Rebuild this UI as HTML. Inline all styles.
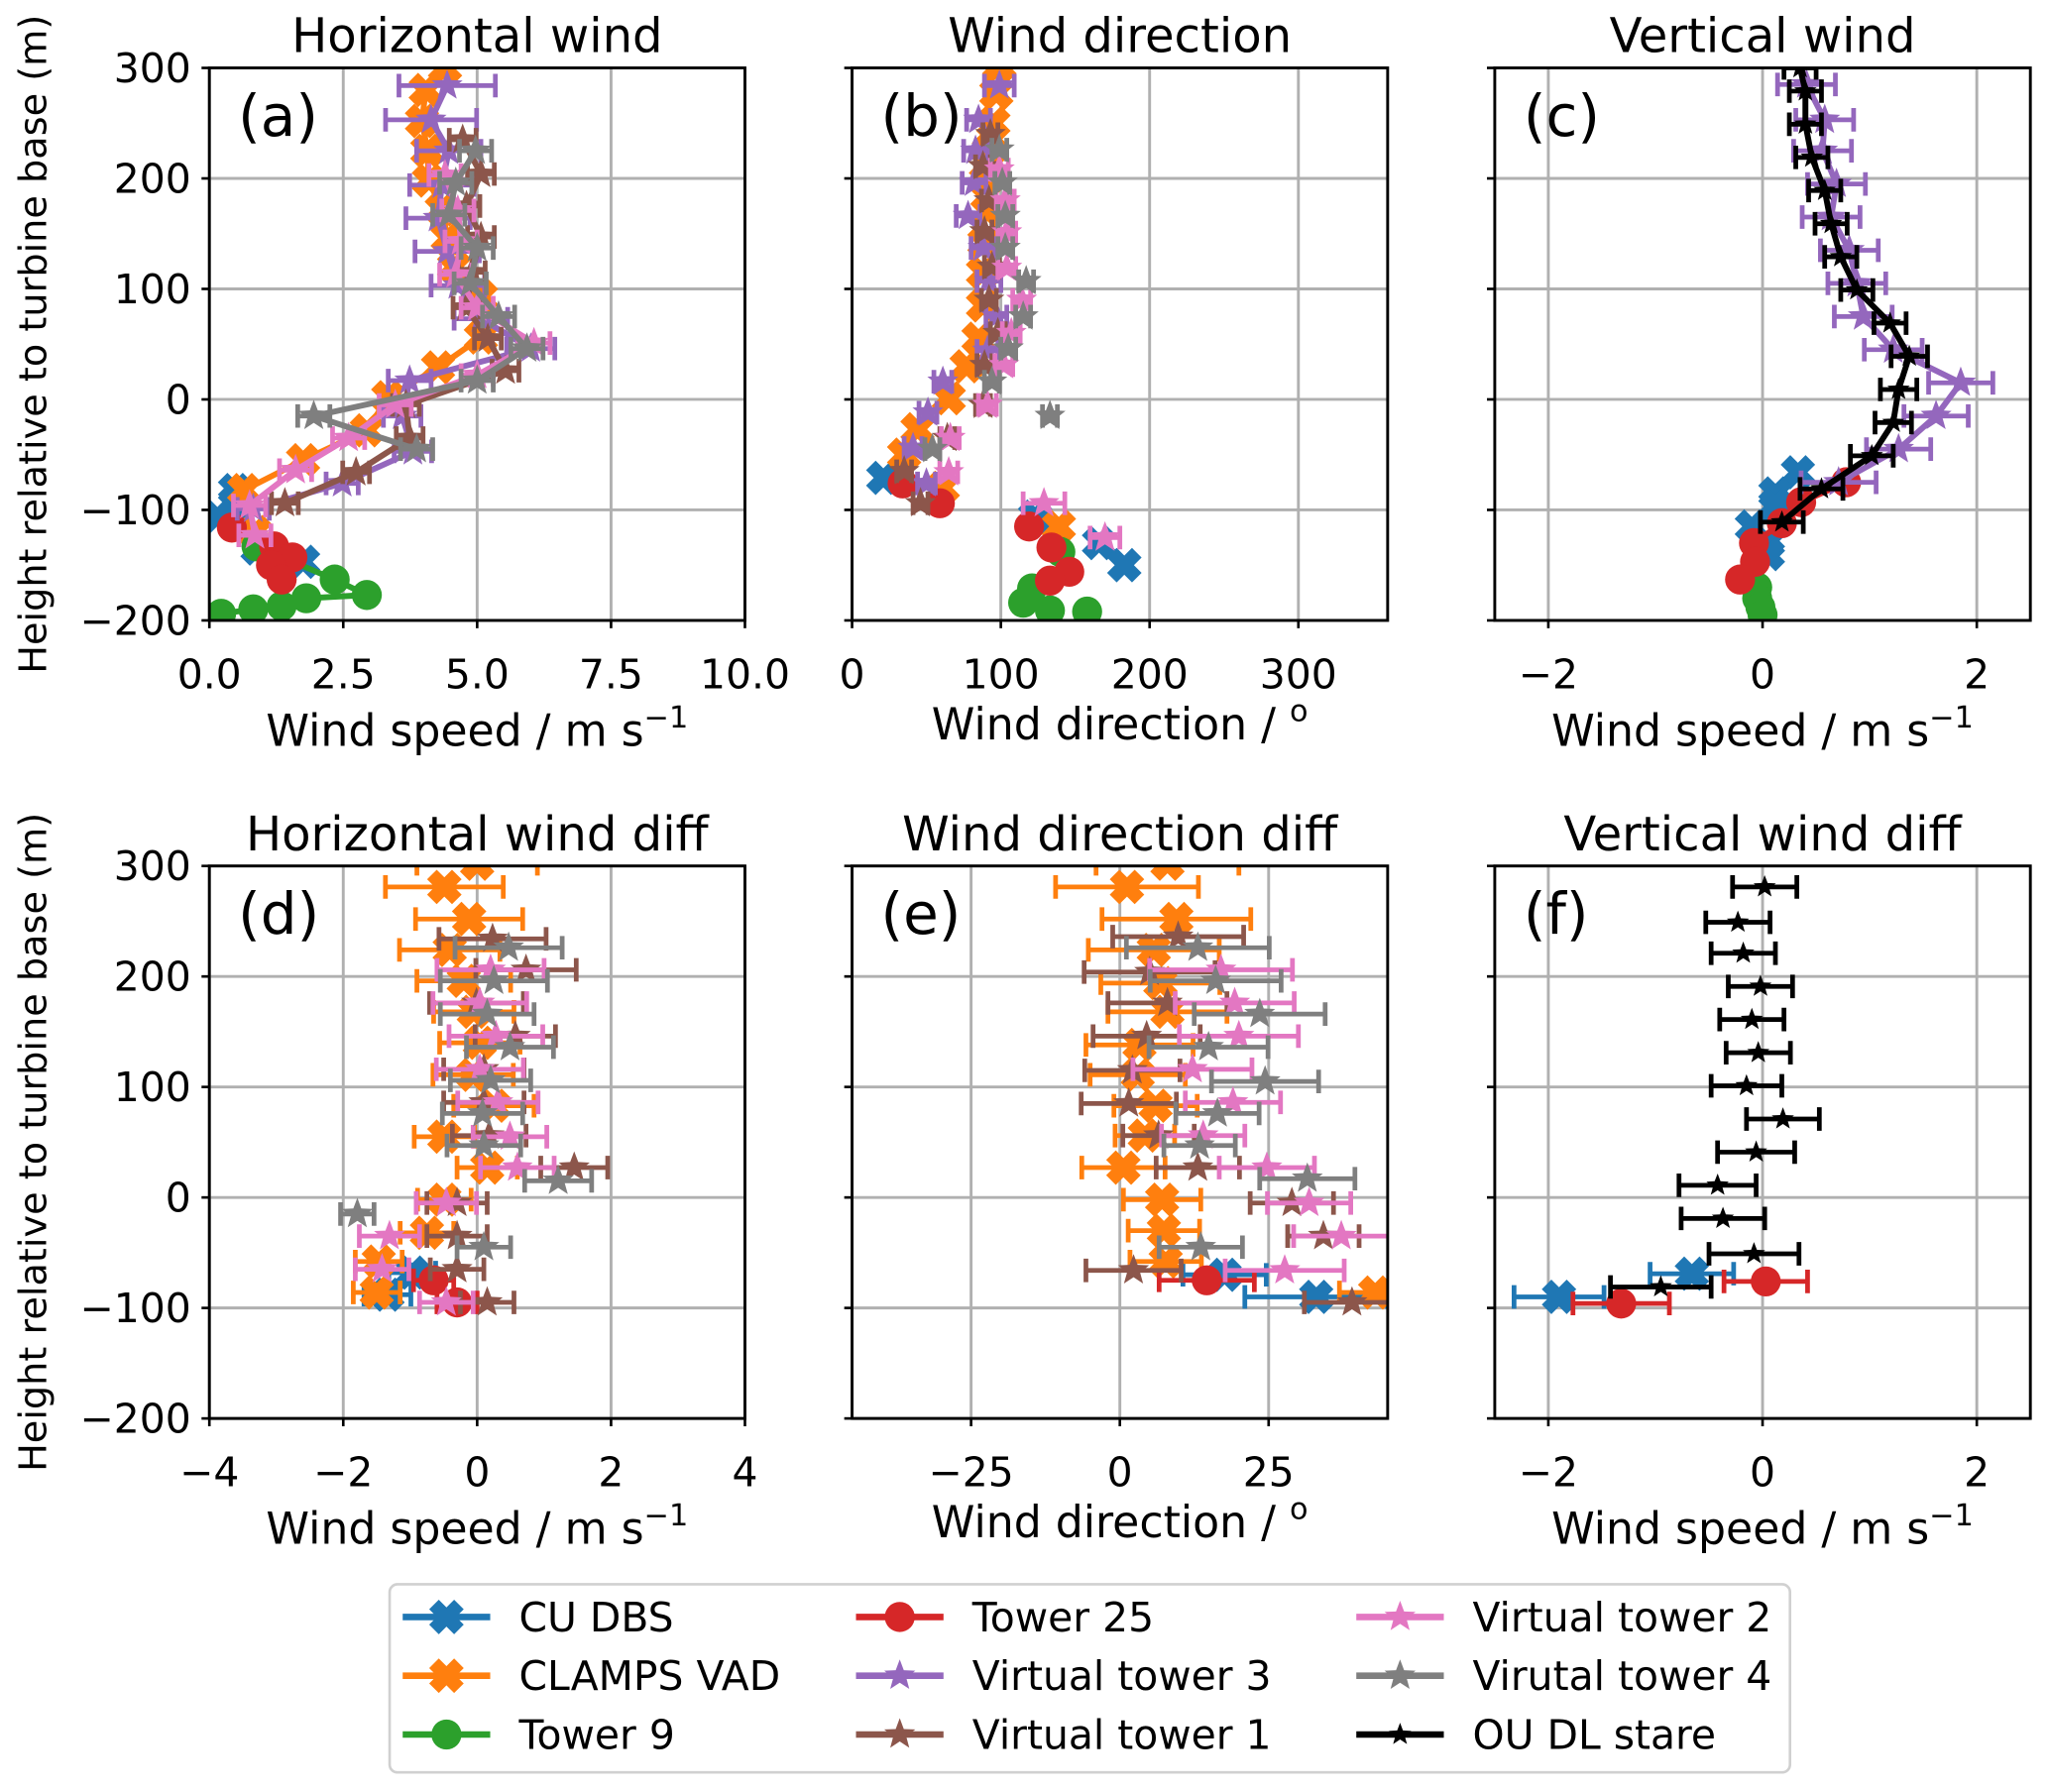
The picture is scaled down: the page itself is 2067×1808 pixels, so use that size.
<!DOCTYPE html>
<html><head><meta charset="utf-8"><title>Wind profiles</title>
<style>
html,body{margin:0;padding:0;background:#fff;}
svg{display:block;font-family:"DejaVu Sans","Liberation Sans",sans-serif;}
</style></head>
<body>
<svg id="fig" xmlns="http://www.w3.org/2000/svg" width="2067" height="1808" viewBox="0 0 1568 1372">
<rect x="0" y="0" width="1568" height="1372" fill="#fff"/>
</svg>
<script>
// ---------- DATA ----------
// Panel (a) horizontal wind speed
const aCU_h=[-82,-93,-106,-135,-147];
const aCU_v=[0.48,0.48,0.15,0.9,1.75];
const aCL_h=[300,280,252,225,198,172,146,120,93,56,29,2,-28,-55,-82,-120];
const aCL_v=[4.4,4.04,3.97,4.07,4.1,4.34,4.45,4.57,5.07,5.07,4.27,3.34,2.94,1.75,0.65,0.85];
const aT9_h=[-133,-163,-177,-180,-187,-190,-194];
const aT9_v=[0.88,2.34,2.94,1.81,1.35,0.82,0.22];
const aT25_h=[-116,-133,-143,-150,-163];
const aT25_v=[0.42,1.21,1.55,1.15,1.35];
const aV3_h=[284,253,225,194,164,134,103,73,46,17,-15,-47,-76,-99];
const aV3_v=[4.44,4.14,4.47,4.34,4.27,4.44,4.64,5.07,6.0,3.74,3.6,3.8,2.48,0.82];
const aV3_e=[0.9,0.85,0.6,0.6,0.6,0.6,0.5,0.5,0.45,0.4,0.35,0.35,0.3,0.3];
const aV1_h=[235,204,175,147,115,83,55,26,-5,-35,-66,-94];
const aV1_v=[4.73,5.07,4.8,5.07,4.9,4.8,5.2,5.53,3.67,3.74,2.74,1.41];
const aV1_e=[0.25,0.25,0.25,0.25,0.25,0.25,0.25,0.25,0.25,0.25,0.25,0.25];
const aV2_h=[203,171,143,113,83,51,22,-5,-35,-64,-96,-123];
const aV2_v=[4.4,4.64,4.7,4.6,5.0,6.06,5.0,3.47,2.6,1.61,0.75,0.85];
const aV2_e=[0.3,0.3,0.3,0.3,0.3,0.3,0.3,0.3,0.3,0.3,0.3,0.3];
const aV4_h=[225,196,167,137,105,75,46,17,-15,-45];
const aV4_v=[4.97,4.6,4.47,5.0,4.87,5.4,5.93,5.0,1.95,3.87];
const aV4_e=[0.3,0.3,0.3,0.3,0.3,0.3,0.3,0.3,0.3,0.3];
// Panel (b) wind direction
const bCU_h=[-71,-106,-130,-150];
const bCU_v=[21,123,166,183];
const bCL_h=[302,277,250,225,198,170,142,115,85,55,30,1,-27,-50,-80,-115];
const bCL_v=[99,97,95,92,90,91,89,88,88,85,77,65,44,35,61,139];
const bT9_h=[-138,-171,-184,-191,-192];
const bT9_v=[140,121,115,133,158];
const bT25_h=[-76,-94,-115,-134,-156,-164];
const bT25_v=[34,59,119,134,146,133];
const bV3_h=[284,253,225,196,166,137,107,75,44,16,-12,-44,-76];
const bV3_v=[99,85,83,82,78,88,92,97,91,61,51,41,50];
const bV3_e=[10,8,8,8,8,8,8,7,7,6,6,6,6];
const bV1_h=[240,211,180,152,120,90,60,31,-5,-35,-65,-94];
const bV1_v=[93,88,92,89,94,92,98,89,88,64,35,46];
const bV1_e=[5,5,5,5,5,5,5,5,5,5,5,5];
const bV2_h=[208,180,151,119,90,60,31,-5,-35,-66,-94,-125];
const bV2_v=[99,103,104,104,114,107,102,91,66,65,129,170];
const bV2_e=[6,6,6,6,6,6,6,6,6,6,14,10];
const bV4_h=[226,196,166,137,107,75,46,16,-15,-45];
const bV4_v=[99,101,103,103,117,115,105,94,133,54];
const bV4_e=[5,5,5,5,5,5,5,5,5,5];
// Panel (c) vertical wind
const cCU_h=[-66,-85,-95,-115,-130,-140];
const cCU_v=[0.33,0.12,0.12,-0.1,0.05,0.05];
const cT9_h=[-170,-180,-188,-195];
const cT9_v=[-0.05,-0.05,-0.02,0.0];
const cT25_h=[-75,-93,-112,-130,-147,-163];
const cT25_v=[0.78,0.36,0.18,-0.08,-0.07,-0.21];
const cV3_h=[285,253,225,195,165,135,105,75,45,15,-15,-45,-75];
const cV3_v=[0.41,0.58,0.56,0.69,0.64,0.81,0.88,0.94,1.22,1.85,1.62,1.27,0.71];
const cV3_e=[0.27,0.27,0.27,0.27,0.27,0.27,0.27,0.27,0.27,0.3,0.3,0.3,0.35];
const cOU_h=[300,279,249,219,189,159,129,99,69,39,9,-21,-51,-81,-111];
const cOU_v=[0.35,0.40,0.40,0.46,0.58,0.64,0.73,0.88,1.19,1.37,1.27,1.22,1.02,0.55,0.18];
const cOU_e=[0.15,0.15,0.15,0.15,0.15,0.15,0.15,0.15,0.15,0.17,0.17,0.17,0.2,0.2,0.2];
// Panel (d) horizontal wind diff
const dCU_h=[-68,-88];
const dCU_v=[-0.97,-1.34];
const dCU_e=[0.35,0.35];
const dCL_h=[302,281,252,224,196,168,140,111,83,55,27,-2,-32,-58,-86];
const dCL_v=[0,-0.49,-0.12,-0.41,-0.2,-0.05,0.04,-0.06,0.25,-0.49,0.15,-0.49,-0.75,-1.47,-1.5];
const dCL_e=[0.9,0.88,0.8,0.75,0.7,0.6,0.6,0.6,0.6,0.45,0.45,0.4,0.4,0.35,0.35];
const dT25_h=[-75,-95];
const dT25_v=[-0.65,-0.3];
const dT25_e=[0.3,0.3];
const dV1_h=[234,206,176,146,116,86,56,27,-5,-35,-65,-95];
const dV1_v=[0.23,0.73,-0.01,0.57,0.1,0.1,0.18,1.45,-0.3,-0.3,-0.3,0.15];
const dV1_e=[0.8,0.75,0.7,0.6,0.6,0.6,0.55,0.5,0.45,0.45,0.4,0.4];
const dV2_h=[206,176,146,116,86,55,27,-5,-35,-65,-95];
const dV2_v=[0.2,0.04,0.28,0.04,0.31,0.49,0.6,-0.46,-1.31,-1.42,-0.46];
const dV2_e=[0.8,0.7,0.7,0.65,0.6,0.55,0.55,0.45,0.45,0.4,0.4];
const dV4_h=[226,196,166,136,106,76,47,15,-15,-45];
const dV4_v=[0.47,0.25,0.15,0.49,0.2,0.08,0.1,1.21,-1.79,0.1];
const dV4_e=[0.8,0.8,0.7,0.65,0.6,0.6,0.55,0.5,0.25,0.4];
// Panel (e) wind direction diff
const eCU_h=[-70,-90];
const eCU_v=[17.6,33];
const eCU_e=[7,12];
const eCL_h=[302,281,252,224,194,168,138,111,83,56,27,-2,-30,-58,-86];
const eCL_v=[8,1.2,9.5,5.7,6.8,8,3.3,3,6,4.2,0.6,7.1,7.4,7.7,42.9];
const eCL_e=[12,12,12.5,11,10,10,9,8,7,5,7,6.5,6,6,6];
const eT25_h=[-75];
const eT25_v=[14.6];
const eT25_e=[8];
const eV1_h=[236,204,176,146,115,85,56,27,-5,-35,-66,-95];
const eV1_v=[9.8,5,8,4.5,2.1,1.5,6.5,13.1,28.9,34.2,2.3,39];
const eV1_e=[11,11,10,9,8,8,6,7,7,6,8,8];
const eV2_h=[206,176,146,116,86,56,27,-5,-35,-66];
const eV2_v=[17,19.3,20,12.2,19,14,24.7,31.8,37.2,27.7];
const eV2_e=[12,10,10,10,8,7,8,7,8,10];
const eV4_h=[226,196,166,136,105,76,47,17,-45];
const eV4_v=[13.1,16.1,23.5,14.9,24.4,16.4,13.4,31.5,13.6];
const eV4_e=[12,11,11,10,9,7,6,8,7];
// Panel (f) vertical wind diff
const fCU_h=[-69,-90];
const fCU_v=[-0.66,-1.9];
const fCU_e=[0.39,0.42];
const fT25_h=[-76,-96];
const fT25_v=[0.03,-1.32];
const fT25_e=[0.39,0.45];
const fOU_h=[281,249,221,191,161,131,101,71,41,11,-19,-51,-81];
const fOU_v=[0.02,-0.23,-0.18,-0.02,-0.1,-0.04,-0.15,0.19,-0.06,-0.42,-0.37,-0.08,-0.95];
const fOU_e=[0.3,0.3,0.3,0.3,0.3,0.3,0.33,0.34,0.36,0.36,0.39,0.42,0.47];
// tick labels
const yTicks=[300,200,100,0,-100,-200];
const yTickLabels=["300","200","100","0","\u2212100","\u2212200"];
const aTicks=[0,2.5,5,7.5,10]; const aTickLabels=["0.0","2.5","5.0","7.5","10.0"];
const bTicks=[0,100,200,300]; const bTickLabels=["0","100","200","300"];
const cTicks=[-2,0,2]; const cTickLabels=["\u22122","0","2"];
const dTicks=[-4,-2,0,2,4]; const dTickLabels=["\u22124","\u22122","0","2","4"];
const eTicks=[-25,0,25]; const eTickLabels=["\u221225","0","25"];
const fTicks=[-2,0,2]; const fTickLabels=["\u22122","0","2"];

// ---------- RENDER ----------
const NS="http://www.w3.org/2000/svg";
const svg=document.getElementById('fig');
function mk(tag,attrs,parent){const e=document.createElementNS(NS,tag);for(const k in attrs)e.setAttribute(k,attrs[k]);(parent||svg).appendChild(e);return e;}
const C={blue:'#1f77b4',orange:'#ff7f0e',green:'#2ca02c',red:'#d62728',purple:'#9467bd',brown:'#8c564b',pink:'#e377c2',gray:'#7f7f7f',black:'#000000'};

const panels=[
 {id:'a',x0:160,y0:52,xmin:0,xmax:10,ticks:aTicks,labels:aTickLabels,title:'Horizontal wind',xl:'speed',ylab:true},
 {id:'b',x0:652,y0:52,xmin:0,xmax:360,ticks:bTicks,labels:bTickLabels,title:'Wind direction',xl:'dir',ylab:false},
 {id:'c',x0:1144,y0:52,xmin:-2.5,xmax:2.5,ticks:cTicks,labels:cTickLabels,title:'Vertical wind',xl:'speed',ylab:false},
 {id:'d',x0:160,y0:663,xmin:-4,xmax:4,ticks:dTicks,labels:dTickLabels,title:'Horizontal wind diff',xl:'speed',ylab:true},
 {id:'e',x0:652,y0:663,xmin:-45,xmax:45,ticks:eTicks,labels:eTickLabels,title:'Wind direction diff',xl:'dir',ylab:false},
 {id:'f',x0:1144,y0:663,xmin:-2.5,xmax:2.5,ticks:fTicks,labels:fTickLabels,title:'Vertical wind diff',xl:'speed',ylab:false}
];
const PW=410, PH=423;
const YMIN=-200, YMAX=300;

function sx(p,v){return p.x0+(v-p.xmin)/(p.xmax-p.xmin)*PW;}
function sy(p,h){return p.y0+(YMAX-h)/(YMAX-YMIN)*PH;}

function marker(g,type,cx,cy,color,s){
  s=s||1;let el;
  if(type==='o'){el=mk('circle',{cx:cx,cy:cy,r:11.5*s,fill:color},g);}
  else if(type==='X'){
    const a=13.5*s,t=5.2*s;
    const pts=[[-t,-a],[t,-a],[t,-t],[a,-t],[a,t],[t,t],[t,a],[-t,a],[-t,t],[-a,t],[-a,-t],[-t,-t]];
    el=mk('polygon',{points:pts.map(q=>q.join(',')).join(' '),fill:color,transform:`translate(${cx},${cy}) rotate(45)`},g);
  } else {
    const R=(type==='*s'?9:12.5)*s,r=R*0.42;let pts=[];
    for(let i=0;i<10;i++){const ang=-Math.PI/2+i*Math.PI/5;const rr=i%2?r:R;pts.push((cx+rr*Math.cos(ang)).toFixed(1)+','+(cy+rr*Math.sin(ang)).toFixed(1));}
    el=mk('polygon',{points:pts.join(' '),fill:color},g);
  }
  return el;
}

const series={
 a:[['cu-dbs',C.blue,'X',aCU_h,aCU_v,null],['clamps-vad',C.orange,'X',aCL_h,aCL_v,null],['tower-9',C.green,'o',aT9_h,aT9_v,null],['tower-25',C.red,'o',aT25_h,aT25_v,null],['virtual-tower-3',C.purple,'*',aV3_h,aV3_v,aV3_e],['virtual-tower-1',C.brown,'*',aV1_h,aV1_v,aV1_e],['virtual-tower-2',C.pink,'*',aV2_h,aV2_v,aV2_e],['virtual-tower-4',C.gray,'*',aV4_h,aV4_v,aV4_e]],
 b:[['cu-dbs',C.blue,'X',bCU_h,bCU_v,null],['clamps-vad',C.orange,'X',bCL_h,bCL_v,null],['tower-9',C.green,'o',bT9_h,bT9_v,null],['tower-25',C.red,'o',bT25_h,bT25_v,null],['virtual-tower-3',C.purple,'*',bV3_h,bV3_v,bV3_e],['virtual-tower-1',C.brown,'*',bV1_h,bV1_v,bV1_e],['virtual-tower-2',C.pink,'*',bV2_h,bV2_v,bV2_e],['virtual-tower-4',C.gray,'*',bV4_h,bV4_v,bV4_e]],
 c:[['cu-dbs',C.blue,'X',cCU_h,cCU_v,null],['tower-9',C.green,'o',cT9_h,cT9_v,null],['tower-25',C.red,'o',cT25_h,cT25_v,null],['virtual-tower-3',C.purple,'*',cV3_h,cV3_v,cV3_e],['ou-dl-stare',C.black,'*s',cOU_h,cOU_v,cOU_e]],
 d:[['cu-dbs',C.blue,'X',dCU_h,dCU_v,dCU_e],['clamps-vad',C.orange,'X',dCL_h,dCL_v,dCL_e],['tower-25',C.red,'o',dT25_h,dT25_v,dT25_e],['virtual-tower-1',C.brown,'*',dV1_h,dV1_v,dV1_e],['virtual-tower-2',C.pink,'*',dV2_h,dV2_v,dV2_e],['virtual-tower-4',C.gray,'*',dV4_h,dV4_v,dV4_e]],
 e:[['cu-dbs',C.blue,'X',eCU_h,eCU_v,eCU_e],['clamps-vad',C.orange,'X',eCL_h,eCL_v,eCL_e],['tower-25',C.red,'o',eT25_h,eT25_v,eT25_e],['virtual-tower-1',C.brown,'*',eV1_h,eV1_v,eV1_e],['virtual-tower-2',C.pink,'*',eV2_h,eV2_v,eV2_e],['virtual-tower-4',C.gray,'*',eV4_h,eV4_v,eV4_e]],
 f:[['cu-dbs',C.blue,'X',fCU_h,fCU_v,fCU_e],['tower-25',C.red,'o',fT25_h,fT25_v,fT25_e],['ou-dl-stare',C.black,'*s',fOU_h,fOU_v,fOU_e]]
};
const withLines={a:true,b:false,c:true,d:false,e:false,f:false};

const defs=mk('defs',{});
panels.forEach(p=>{
  const g=mk('g',{});
  
  
  const cp=mk('clipPath',{id:'clip-'+p.id},defs);
  mk('rect',{x:p.x0,y:p.y0,width:PW,height:PH},cp);
  p.ticks.forEach(t=>{
    const gl=mk('line',{x1:sx(p,t),x2:sx(p,t),y1:p.y0,y2:p.y0+PH,stroke:'#b0b0b0','stroke-width':2.2},g);
    
    
  });
  yTicks.forEach(t=>{
    const gl=mk('line',{x1:p.x0,x2:p.x0+PW,y1:sy(p,t),y2:sy(p,t),stroke:'#b0b0b0','stroke-width':2.2},g);
    
    
  });
  const dg=mk('g',{'clip-path':`url(#clip-${p.id})`},g);
  
  
  series[p.id].forEach(s=>{
    const [name,col,mt,H,V,E]=s;
    const sg=mk('g',{},dg);
    
    
    if(withLines[p.id]){
      const pl=mk('polyline',{points:H.map((h,i)=>sx(p,V[i]).toFixed(1)+','+sy(p,h).toFixed(1)).join(' '),fill:'none',stroke:col,'stroke-width':4.5,'stroke-linejoin':'round'},sg);
      
      
    }
    if(E){
      H.forEach((h,i)=>{
        const y=sy(p,h),xa=sx(p,V[i]-E[i]),xb=sx(p,V[i]+E[i]);
        const eb=mk('path',{d:`M${xa},${y}H${xb}M${xa},${y-9}V${y+9}M${xb},${y-9}V${y+9}`,stroke:col,'stroke-width':3.6,fill:'none'},sg);
        
        
      });
    }
    H.forEach((h,i)=>{
      const m=marker(sg,mt,sx(p,V[i]),sy(p,h),col);
      
      
    });
  });
  const fr=mk('rect',{x:p.x0,y:p.y0,width:PW,height:PH,fill:'none',stroke:'#000','stroke-width':2.2},g);
  
  
  p.ticks.forEach((t,i)=>{
    const x=sx(p,t);
    const tk=mk('line',{x1:x,x2:x,y1:p.y0+PH,y2:p.y0+PH+6,stroke:'#000','stroke-width':2},g);
    
    
    const tl=mk('text',{x:x,y:p.y0+PH+52,'text-anchor':'middle','font-size':31,fill:'#000'},g);
    tl.textContent=p.labels[i];
    
    
  });
  yTicks.forEach((t,i)=>{
    const y=sy(p,t);
    const tk=mk('line',{x1:p.x0-6,x2:p.x0,y1:y,y2:y,stroke:'#000','stroke-width':2},g);
    
    
    if(p.ylab){
      const tl=mk('text',{x:p.x0-14,y:y+11,'text-anchor':'end','font-size':31,fill:'#000'},g);
      tl.textContent=yTickLabels[i];
      
      
    }
  });
  const ti=mk('text',{x:p.x0+PW/2,y:p.y0-12,'text-anchor':'middle','font-size':36.5,fill:'#000'},g);
  ti.textContent=p.title;
  
  
  const pl=mk('text',{x:p.x0+22,y:p.y0+52,'font-size':44,fill:'#000'},g);
  pl.textContent='('+p.id+')';
  
  
  const xl=mk('text',{x:p.x0+PW/2,y:p.y0+PH+96,'text-anchor':'middle','font-size':33.5,fill:'#000'},g);
  
  
  if(p.xl==='speed'){
    xl.appendChild(document.createTextNode('Wind speed / m s'));
    const sp=mk('tspan',{'font-size':23,dy:-14},xl);sp.textContent='\u22121';
  } else {
    xl.setAttribute('y',p.y0+PH+91);
    xl.appendChild(document.createTextNode('Wind direction / '));
    const sp=mk('tspan',{'font-size':23,dy:-14},xl);sp.textContent='o';
  }
  if(p.ylab){
    const cy=p.y0+PH/2;
    const yl=mk('text',{x:0,y:0,'text-anchor':'middle','font-size':29,fill:'#000',transform:`translate(35,${cy}) rotate(-90)`},g);
    yl.textContent='Height relative to turbine base (m)';
    
    
  }
});

const legendItems=[
 ['CU DBS',C.blue,'X',0,0],['CLAMPS VAD',C.orange,'X',0,1],['Tower 9',C.green,'o',0,2],
 ['Tower 25',C.red,'o',1,0],['Virtual tower 3',C.purple,'*',1,1],['Virtual tower 1',C.brown,'*',1,2],
 ['Virtual tower 2',C.pink,'*',2,0],['Virutal tower 4',C.gray,'*',2,1],['OU DL stare',C.black,'*s',2,2]
];
const lg=mk('g',{});


const lb=mk('rect',{x:298,y:1213,width:1072,height:144,rx:6,fill:'#fff',stroke:'#d0d0d0','stroke-width':2},lg);


const colX=[308,655,1038];
legendItems.forEach(it=>{
  const [txt,col,mt,ci,ri]=it;
  const y=1238+ri*45, x=colX[ci];
  const eg=mk('g',{},lg);
  
  
  mk('line',{x1:x,x2:x+67,y1:y,y2:y,stroke:col,'stroke-width':5},eg);
  marker(eg,mt,x+33.5,y,col,1);
  const t=mk('text',{x:x+89,y:y+11,'font-size':31,fill:'#000'},eg);
  t.textContent=txt;
});
</script>
</body></html>
